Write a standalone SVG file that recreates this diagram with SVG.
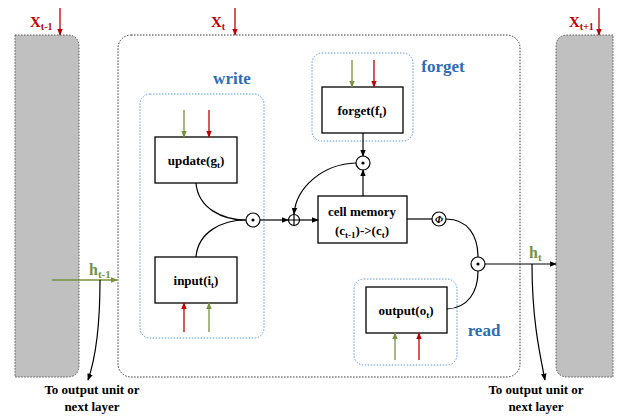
<svg xmlns="http://www.w3.org/2000/svg" width="622" height="416" viewBox="0 0 622 416">
<defs>
<style>
.t{font-family:"Liberation Serif","Times New Roman",serif;font-weight:bold;fill:#000;}
.box{fill:#fff;stroke:#000;stroke-width:1.3;}
.gray{fill:#c0c0c0;stroke:#555;stroke-width:1;stroke-dasharray:1.5 1.5;}
.main{fill:#fff;stroke:#333;stroke-width:1;stroke-dasharray:1.5 1.5;}
.blue{fill:none;stroke:#5b9bd5;stroke-width:1;stroke-dasharray:1.5 1.5;}
.lbl{font-family:"Liberation Serif","Times New Roman",serif;font-weight:bold;fill:#2e6db4;font-size:17px;}
.red{stroke:#c00000;stroke-width:1.3;fill:none;}
.grn{stroke:#76923c;stroke-width:1.3;fill:none;}
.blk{stroke:#000;stroke-width:1.2;fill:none;}
.op{fill:#fff;stroke:#000;stroke-width:1.2;}
</style>
<marker id="ar" viewBox="0 0 10 10" refX="9" refY="5" markerWidth="7" markerHeight="7" markerUnits="userSpaceOnUse" orient="auto"><path d="M0,1 L10,5 L0,9 z" fill="#c00000"/></marker>
<marker id="ag" viewBox="0 0 10 10" refX="9" refY="5" markerWidth="7" markerHeight="7" markerUnits="userSpaceOnUse" orient="auto"><path d="M0,1 L10,5 L0,9 z" fill="#76923c"/></marker>
<marker id="ab" viewBox="0 0 10 10" refX="9" refY="5" markerWidth="7" markerHeight="7" markerUnits="userSpaceOnUse" orient="auto"><path d="M0,1 L10,5 L0,9 z" fill="#000"/></marker>
</defs>

<g id="prev-cell">
<path class="gray" d="M15,35 H67 Q79,35 79,47 V365 Q79,377 67,377 H15 Z"/>
</g>
<g id="next-cell">
<path class="gray" d="M613,35 H568 Q556,35 556,47 V365 Q556,377 568,377 H613 Z"/>
</g>
<g id="lstm-cell">
<rect class="main" x="118" y="35" width="402" height="342" rx="13"/>
</g>

<g id="write-group">
<rect class="blue" x="140" y="94" width="124" height="244" rx="10"/>
<text class="lbl" x="232" y="84" text-anchor="middle">write</text>
</g>
<g id="forget-group">
<rect class="blue" x="312" y="53" width="101" height="88" rx="10"/>
<text class="lbl" x="443" y="72" text-anchor="middle">forget</text>
</g>
<g id="read-group">
<rect class="blue" x="354" y="279" width="103" height="86" rx="10"/>
<text class="lbl" x="484" y="336" text-anchor="middle">read</text>
</g>

<g id="update">
<rect class="box" x="155" y="137" width="82" height="46"/>
<text class="t" x="196" y="165" font-size="13" text-anchor="middle">update(g<tspan font-size="9" dy="3">t</tspan><tspan dy="-3">)</tspan></text>
</g>
<g id="input">
<rect class="box" x="155" y="257" width="82" height="46"/>
<text class="t" x="196" y="285" font-size="13" text-anchor="middle">input(i<tspan font-size="9" dy="3">t</tspan><tspan dy="-3">)</tspan></text>
</g>
<g id="forget">
<rect class="box" x="322" y="87" width="81" height="46"/>
<text class="t" x="362" y="115" font-size="13" text-anchor="middle">forget(f<tspan font-size="9" dy="3">t</tspan><tspan dy="-3">)</tspan></text>
</g>
<g id="cell-memory">
<rect class="box" x="318" y="196" width="89" height="47"/>
<text class="t" x="362" y="216" font-size="13" text-anchor="middle">cell memory</text>
<text class="t" x="362" y="235" font-size="13" text-anchor="middle">(c<tspan font-size="9" dy="3">t-1</tspan><tspan dy="-3">)-&gt;(c</tspan><tspan font-size="9" dy="3">t</tspan><tspan dy="-3">)</tspan></text>
</g>
<g id="output">
<rect class="box" x="366" y="287" width="81" height="46"/>
<text class="t" x="406" y="315" font-size="13" text-anchor="middle">output(o<tspan font-size="9" dy="3">t</tspan><tspan dy="-3">)</tspan></text>
</g>

<g id="mul-write">
<circle class="op" cx="253" cy="220" r="7"/>
<circle cx="253" cy="220" r="1.6" fill="#000"/>
</g>
<g id="add">
<circle class="op" cx="294" cy="220" r="5.5"/>
<path class="blk" d="M288.5,220 H299.5 M294,214.5 V225.5" stroke-width="1"/>
</g>
<g id="mul-forget">
<circle class="op" cx="363" cy="163" r="7"/>
<circle cx="363" cy="163" r="1.6" fill="#000"/>
</g>
<g id="phi">
<circle class="op" cx="439" cy="219" r="7"/>
<text x="439" y="223" font-family="Liberation Serif,serif" font-style="italic" font-weight="bold" font-size="10" text-anchor="middle">Φ</text>
</g>
<g id="mul-read">
<circle class="op" cx="478" cy="264" r="7"/>
<circle cx="478" cy="264" r="1.6" fill="#000"/>
</g>

<g id="inputs-labels">
<text x="30" y="27" class="t" font-size="15" fill="#c00000" style="fill:#c00000">X<tspan font-size="10" dy="3">t-1</tspan></text>
<text x="211" y="27" class="t" font-size="15" style="fill:#c00000">X<tspan font-size="10" dy="3">t</tspan></text>
<text x="569" y="27" class="t" font-size="15" style="fill:#c00000">X<tspan font-size="10" dy="3">t+1</tspan></text>
<text x="89" y="275" class="t" font-size="16" style="fill:#76923c">h<tspan font-size="11" dy="3">t-1</tspan></text>
<text x="529" y="258" class="t" font-size="16" style="fill:#76923c">h<tspan font-size="11" dy="3">t</tspan></text>
<text class="t" x="92" y="394" font-size="13" text-anchor="middle">To output unit or</text>
<text class="t" x="92" y="411" font-size="13" text-anchor="middle">next layer</text>
<text class="t" x="536" y="394" font-size="13" text-anchor="middle">To output unit or</text>
<text class="t" x="536" y="411" font-size="13" text-anchor="middle">next layer</text>
</g>

<g id="connectors">
<line class="red" x1="60" y1="8" x2="60" y2="35" marker-end="url(#ar)"/>
<line class="red" x1="235" y1="8" x2="235" y2="35" marker-end="url(#ar)"/>
<line class="red" x1="599" y1="8" x2="599" y2="35" marker-end="url(#ar)"/>

<line class="grn" x1="184" y1="110" x2="184" y2="137" marker-end="url(#ag)"/>
<line class="red" x1="209" y1="110" x2="209" y2="137" marker-end="url(#ar)"/>
<line class="red" x1="184" y1="332" x2="184" y2="303" marker-end="url(#ar)"/>
<line class="grn" x1="209" y1="332" x2="209" y2="303" marker-end="url(#ag)"/>
<line class="grn" x1="352" y1="60" x2="352" y2="87" marker-end="url(#ag)"/>
<line class="red" x1="374" y1="60" x2="374" y2="87" marker-end="url(#ar)"/>
<line class="grn" x1="395" y1="360" x2="395" y2="333" marker-end="url(#ag)"/>
<line class="red" x1="419" y1="360" x2="419" y2="333" marker-end="url(#ar)"/>

<path class="blk" d="M196,183 C198,208 222,220 246,220"/>
<path class="blk" d="M196,257 C198,232 222,220 246,220"/>
<line class="blk" x1="260" y1="220" x2="288" y2="220" marker-end="url(#ab)"/>
<line class="blk" x1="299.5" y1="220" x2="318" y2="220" marker-end="url(#ab)"/>
<line class="blk" x1="363" y1="196" x2="363" y2="170" marker-end="url(#ab)"/>
<line class="blk" x1="363" y1="133" x2="363" y2="156" marker-end="url(#ab)"/>
<path class="blk" d="M356,163 C322,164 296,188 294,214" marker-end="url(#ab)"/>
<line class="blk" x1="407" y1="219" x2="432" y2="219"/>
<path class="blk" d="M446,219 C468,219 478,236 478,257"/>
<path class="blk" d="M447,309 C468,308 478,292 478,271"/>
<line class="blk" x1="485" y1="264" x2="556" y2="264" marker-end="url(#ab)"/>
<path class="blk" d="M532,264 C532,320 540,355 545,380" marker-end="url(#ab)"/>
<line class="grn" x1="52" y1="280" x2="117" y2="280" stroke-width="1.8" marker-end="url(#ag)"/>
<path class="blk" d="M100,280 C100,330 95,360 88,380" marker-end="url(#ab)"/>
</g>
</svg>
